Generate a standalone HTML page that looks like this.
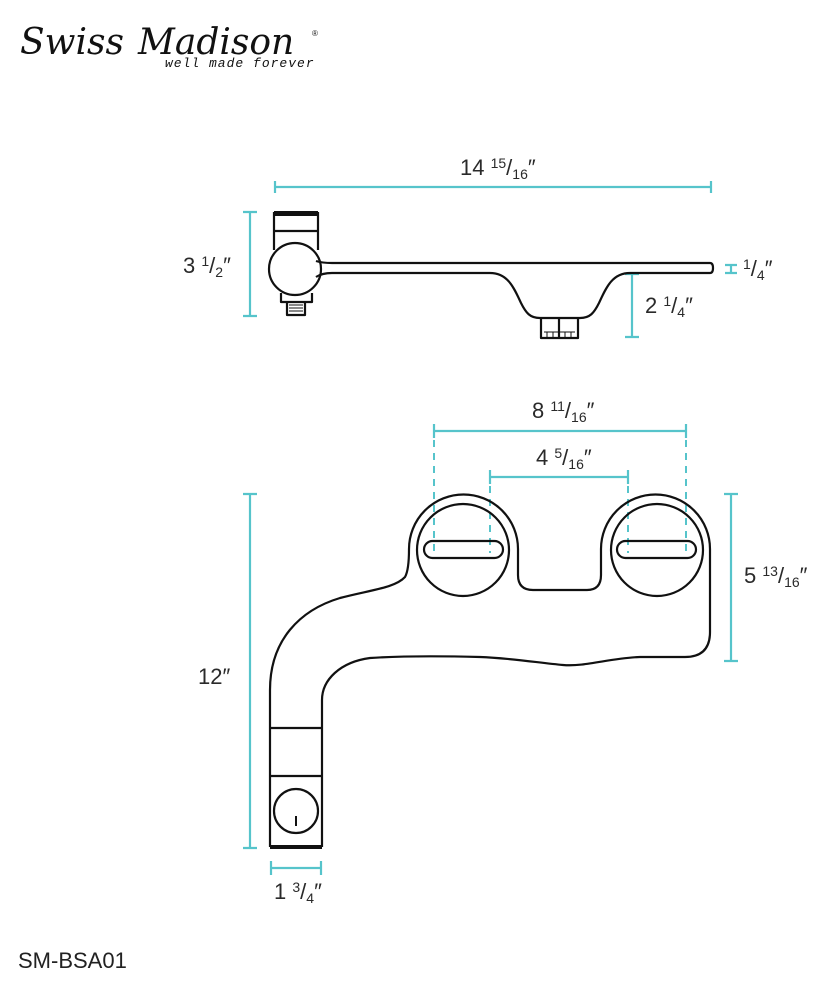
<!DOCTYPE html>
<html><head><meta charset="utf-8"><style>
html,body{margin:0;padding:0;background:#fff;}
svg{display:block;}
.t{font-family:"Liberation Sans",sans-serif;fill:#2a2a2a;font-size:22px;}
.f{font-size:14px;}
.c{stroke:#56c4cb;stroke-width:2.2;fill:none;}
.d{stroke:#56c4cb;stroke-width:2;fill:none;stroke-dasharray:7,6;}
.k{stroke:#111;stroke-width:2.2;fill:none;stroke-linejoin:round;}
</style></head><body>
<svg width="824" height="990" viewBox="0 0 824 990" xmlns="http://www.w3.org/2000/svg">
<text x="20" y="54" font-family="DejaVu Serif,serif" font-style="italic" font-size="36" fill="#111">Swiss</text>
<text x="138" y="54" font-family="DejaVu Serif,serif" font-style="italic" font-size="36" fill="#111">Madison</text>
<text x="312" y="36" font-family="Liberation Sans,sans-serif" font-size="8" fill="#111">®</text>
<text x="165" y="67" font-family="Liberation Mono,monospace" font-style="italic" font-size="13" fill="#111" letter-spacing="1">well made forever</text>

<path class="c" d="M275,187H711M275,181V193M711,181V193"/>
<text class="t" x="460" y="175">14 <tspan class="f" dy="-7">15</tspan><tspan dy="7">/</tspan><tspan class="f" dy="4">16</tspan><tspan dy="-4">″</tspan></text>
<path class="c" d="M250,212V316M243,212H257M243,316H257"/>
<text class="t" x="183" y="273">3 <tspan class="f" dy="-7">1</tspan><tspan dy="7">/</tspan><tspan class="f" dy="4">2</tspan><tspan dy="-4">″</tspan></text>
<path class="c" d="M731,265V273M725,265H737M725,273H737" stroke-width="2.6"/>
<text class="t" x="743" y="276"><tspan class="f" dy="-7">1</tspan><tspan dy="7">/</tspan><tspan class="f" dy="4">4</tspan><tspan dy="-4">″</tspan></text>
<path class="c" d="M632,274V337M625,274H639M625,337H639"/>
<text class="t" x="645" y="313">2 <tspan class="f" dy="-7">1</tspan><tspan dy="7">/</tspan><tspan class="f" dy="4">4</tspan><tspan dy="-4">″</tspan></text>

<rect x="274" y="211" width="44" height="5" fill="#111"/>
<path class="k" d="M274,212V250M318,212V250M274,231H318"/>
<path class="k" d="M316,261Q322,263 332,263H710Q713,263 713,268Q713,273 710,273H630C612,273 606,288 599,303C594,313 590,318 580,318H540C530,318 526,313 521,303C514,288 508,273 490,273H332Q322,273 316,277"/>
<circle class="k" cx="295" cy="269" r="26" fill="#fff"/>
<path class="k" d="M281,293V302H312V293"/>
<path class="k" d="M287,302V315H305V302"/>
<path d="M289,305H303M289,308H303M289,311H303" stroke="#111" stroke-width="1"/>
<path class="k" d="M541,318V338H578V318M559,318V338"/>
<path d="M544,332H575M547,332V338M553,332V338M565,332V338M571,332V338" stroke="#111" stroke-width="1"/>

<path class="c" d="M434,431H686M434,424V438M686,424V438"/>
<text class="t" x="532" y="418">8 <tspan class="f" dy="-7">11</tspan><tspan dy="7">/</tspan><tspan class="f" dy="4">16</tspan><tspan dy="-4">″</tspan></text>
<path class="d" d="M434,440V553M686,440V553"/>
<path class="c" d="M490,477H628M490,470V484M628,470V484"/>
<text class="t" x="536" y="465">4 <tspan class="f" dy="-7">5</tspan><tspan dy="7">/</tspan><tspan class="f" dy="4">16</tspan><tspan dy="-4">″</tspan></text>
<path class="d" d="M490,486V553M628,486V553"/>
<path class="c" d="M250,494V848M243,494H257M243,848H257"/>
<text class="t" x="198" y="684">12″</text>
<path class="c" d="M731,494V661M724,494H738M724,661H738"/>
<text class="t" x="744" y="583">5 <tspan class="f" dy="-7">13</tspan><tspan dy="7">/</tspan><tspan class="f" dy="4">16</tspan><tspan dy="-4">″</tspan></text>
<path class="c" d="M271,868H321M271,861V875M321,861V875"/>
<text class="t" x="274" y="899">1 <tspan class="f" dy="-7">3</tspan><tspan dy="7">/</tspan><tspan class="f" dy="4">4</tspan><tspan dy="-4">″</tspan></text>

<path class="k" d="M270,847V690C270,640 300,610 340,598C370,590 395,588 405,577Q409,570 409,549A54.5,54.5 0 0 1 518,549V575Q518,590 533,590H587Q601,590 601,575V549A54.5,54.5 0 0 1 710,549V632Q710,657 685,657H640C610,658 585,667 563,665C540,663 510,658 480,657C440,656 400,656 370,658C340,662 322,680 322,700V847"/>
<circle class="k" cx="463" cy="550" r="46"/>
<circle class="k" cx="657" cy="550" r="46"/>
<rect class="k" x="424" y="541" width="79" height="17" rx="8.5"/>
<rect class="k" x="617" y="541" width="79" height="17" rx="8.5"/>
<path class="k" d="M270,728H322M270,776H322"/>
<path d="M270,847H322" stroke="#111" stroke-width="4"/>
<circle class="k" cx="296" cy="811" r="22"/>
<path d="M296,816V826" stroke="#111" stroke-width="2"/>

<text x="18" y="968" font-family="Liberation Sans,sans-serif" font-size="22" fill="#222">SM-BSA01</text>
</svg>
</body></html>
